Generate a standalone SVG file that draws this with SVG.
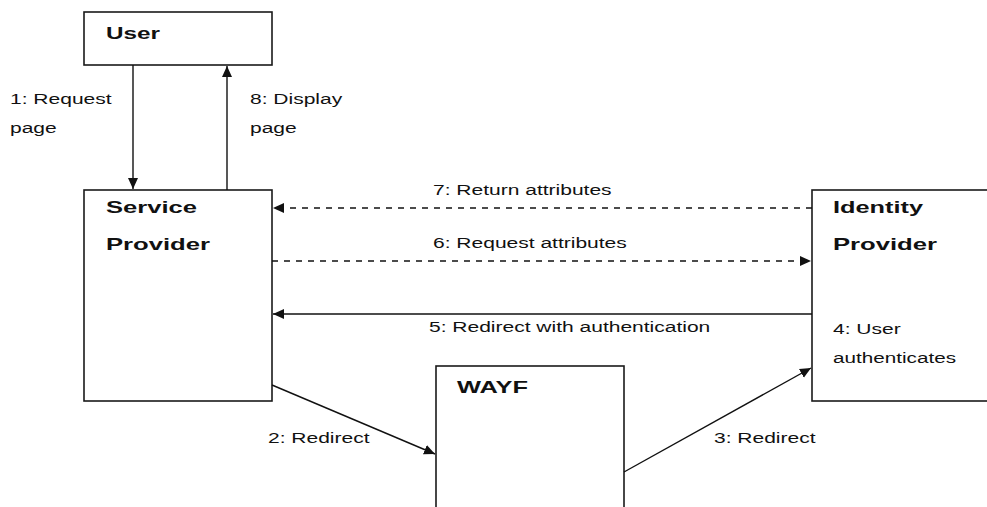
<svg xmlns="http://www.w3.org/2000/svg" width="987" height="507" viewBox="0 0 987 507">
  <style>
    .box { fill: #fff; stroke: #1a1a1a; stroke-width: 1.6; }
    .title { font-family: "Liberation Sans", Arial, sans-serif; font-weight: bold; font-size: 17px; fill: #111; }
    .lbl { font-family: "Liberation Sans", Arial, sans-serif; font-size: 14px; fill: #111; }
    .edge { fill: none; stroke: #111; stroke-width: 1.4; }
    .dash { stroke-dasharray: 6 6; }
  </style>
  <defs>
    <marker id="arrow" markerUnits="userSpaceOnUse" markerWidth="12" markerHeight="12" viewBox="0 0 12 12" refX="11" refY="6" orient="auto">
      <path d="M0,1 L11,6 L0,11 Z" fill="#111"/>
    </marker>
  </defs>

  <rect width="987" height="507" fill="#fff"/>

  <g id="user">
    <rect class="box" x="84" y="12" width="188" height="53"/>
    <text class="title" x="106" y="39" textLength="54" lengthAdjust="spacingAndGlyphs">User</text>
  </g>

  <g id="service-provider">
    <rect class="box" x="84" y="190" width="188" height="211"/>
    <text class="title" x="106" y="213" textLength="91" lengthAdjust="spacingAndGlyphs">Service</text>
    <text class="title" x="106" y="250" textLength="104" lengthAdjust="spacingAndGlyphs">Provider</text>
  </g>

  <g id="identity-provider">
    <rect class="box" x="812" y="190" width="190" height="211"/>
    <text class="title" x="833" y="213" textLength="90" lengthAdjust="spacingAndGlyphs">Identity</text>
    <text class="title" x="833" y="250" textLength="104" lengthAdjust="spacingAndGlyphs">Provider</text>
    <text class="lbl" x="833" y="334" textLength="67.7" lengthAdjust="spacingAndGlyphs">4: User</text>
    <text class="lbl" x="833" y="363" textLength="123" lengthAdjust="spacingAndGlyphs">authenticates</text>
  </g>

  <g id="wayf">
    <rect class="box" x="436" y="366" width="188" height="160"/>
    <text class="title" x="457" y="393" textLength="71" lengthAdjust="spacingAndGlyphs">WAYF</text>
  </g>

  <g id="connectors">
    <line class="edge" x1="133" y1="65" x2="133" y2="189" marker-end="url(#arrow)"/>
    <line class="edge" x1="227" y1="190" x2="227" y2="66" marker-end="url(#arrow)"/>
    <line class="edge dash" x1="812" y1="208" x2="273" y2="208" marker-end="url(#arrow)"/>
    <line class="edge dash" x1="272" y1="261" x2="811" y2="261" marker-end="url(#arrow)"/>
    <line class="edge" x1="812" y1="314" x2="273" y2="314" marker-end="url(#arrow)"/>
    <line class="edge" x1="272" y1="385" x2="435" y2="454" marker-end="url(#arrow)"/>
    <line class="edge" x1="624" y1="472" x2="811" y2="368" marker-end="url(#arrow)"/>
  </g>

  <g id="labels">
    <text class="lbl" x="10" y="104" textLength="101.6" lengthAdjust="spacingAndGlyphs">1: Request</text>
    <text class="lbl" x="10" y="133" textLength="46.7" lengthAdjust="spacingAndGlyphs">page</text>
    <text class="lbl" x="250" y="104" textLength="92.2" lengthAdjust="spacingAndGlyphs">8: Display</text>
    <text class="lbl" x="250" y="133" textLength="46.7" lengthAdjust="spacingAndGlyphs">page</text>
    <text class="lbl" x="433" y="195" textLength="178.6" lengthAdjust="spacingAndGlyphs">7: Return attributes</text>
    <text class="lbl" x="433" y="248" textLength="193.8" lengthAdjust="spacingAndGlyphs">6: Request attributes</text>
    <text class="lbl" x="429" y="332" textLength="281.3" lengthAdjust="spacingAndGlyphs">5: Redirect with authentication</text>
    <text class="lbl" x="268" y="443" textLength="101.5" lengthAdjust="spacingAndGlyphs">2: Redirect</text>
    <text class="lbl" x="714" y="443" textLength="101.5" lengthAdjust="spacingAndGlyphs">3: Redirect</text>
  </g>
</svg>
